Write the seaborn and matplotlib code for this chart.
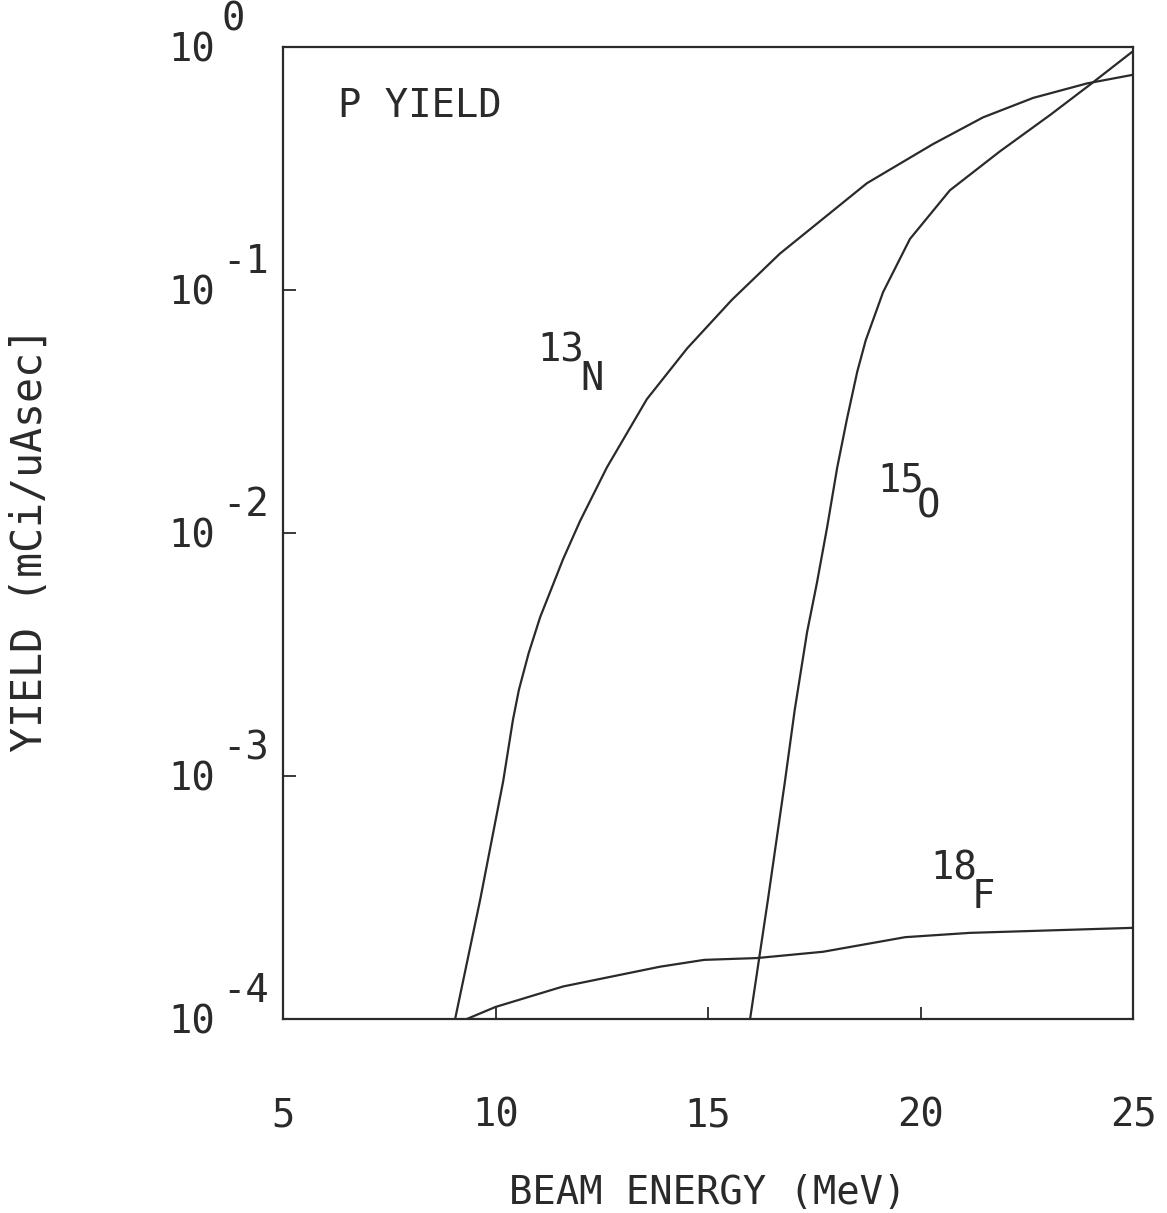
import matplotlib
matplotlib.use("Agg")
import matplotlib.pyplot as plt
import matplotlib.ticker as mticker
import numpy as np
import pandas as pd
import seaborn as sns

# yield curves (beam energy in MeV, yield in mCi/uAsec)
n13_energy = [9.05, 9.64, 10.18, 10.41, 10.55, 10.78, 11.05, 11.59, 11.99, 12.62, 13.56,
              14.51, 15.56, 16.69, 18.74, 20.29, 21.47, 22.65, 23.92, 24.98]
n13_yield = [1.0e-4, 3.1e-4, 9.5e-4, 1.7e-3, 2.26e-3, 3.2e-3, 4.5e-3, 7.8e-3, 1.12e-2, 1.86e-2, 3.55e-2,
             5.75e-2, 9.1e-2, 0.141, 0.275, 0.398, 0.513, 0.617, 0.708, 0.767]

o15_energy = [15.99, 16.41, 16.81, 17.04, 17.33, 17.56, 17.80, 18.04, 18.27, 18.51,
              18.71, 19.12, 19.75, 20.69, 21.87, 23.05, 23.99, 24.98]
o15_yield = [1.0e-4, 3.1e-4, 9.5e-4, 1.87e-3, 3.9e-3, 6.2e-3, 1.05e-2, 1.86e-2, 2.95e-2, 4.6e-2,
             6.2e-2, 9.8e-2, 0.162, 0.257, 0.372, 0.525, 0.70, 0.955]

f18_energy = [9.33, 10.0, 11.59, 13.87, 14.91, 16.15, 17.71, 19.64, 21.16, 24.98]
f18_yield = [1.0e-4, 1.12e-4, 1.36e-4, 1.64e-4, 1.75e-4, 1.78e-4, 1.89e-4, 2.17e-4, 2.26e-4, 2.37e-4]

x_ticks = [5, 10, 15, 20, 25]
y_ticks = [1e0, 1e-1, 1e-2, 1e-3, 1e-4]
y_exponents = ["0", "-1", "-2", "-3", "-4"]

# isotope labels: (mass number, symbol, position of mass number, position of symbol)
curve_labels = [("13", "N", (10.98, 10 ** -1.296), (11.99, 10 ** -1.412)),
                ("15", "O", (18.98, 10 ** -1.831), (19.92, 10 ** -1.938)),
                ("18", "F", (20.22, 10 ** -3.428), (21.21, 10 ** -3.543))]

df = pd.concat([
    pd.DataFrame({"energy": n13_energy, "yield": n13_yield, "isotope": "13N"}),
    pd.DataFrame({"energy": o15_energy, "yield": o15_yield, "isotope": "15O"}),
    pd.DataFrame({"energy": f18_energy, "yield": f18_yield, "isotope": "18F"}),
])

sns.set_style("ticks")
plt.rcParams["font.family"] = ["DejaVu Sans Mono"]
plt.rcParams["font.size"] = 28
ink = "#2a2a2a"

fig = plt.figure(figsize=(11.67, 12.13), dpi=100)
ax = fig.add_axes([0.2425, 0.16, 0.7284, 0.8013])

sns.lineplot(data=df, x="energy", y="yield", units="isotope", estimator=None,
             sort=False, color=ink, lw=1.6, ax=ax)

ax.set_yscale("log")
ax.set_xlim(5, 25)
ax.set_ylim(1e-4, 1)

ax.set_xticks(x_ticks)
ax.set_yticks(y_ticks, labels=["10"] * len(y_ticks))
ax.yaxis.set_minor_locator(mticker.NullLocator())
ax.tick_params(axis="x", direction="in", length=9, width=1.3, pad=56, colors=ink)
ax.tick_params(axis="y", direction="in", length=9, width=1.3, pad=49, colors=ink)
for s in ax.spines.values():
    s.set_linewidth(1.6)
    s.set_color(ink)

for val, e in zip(y_ticks, y_exponents):
    ax.annotate(e, xy=(0, val), xycoords=("axes fraction", "data"),
                xytext=(-44, 20), textcoords="offset points",
                ha="left", va="center", color=ink)

for mass, sym, p1, p2 in curve_labels:
    ax.text(p1[0], p1[1], mass, ha="left", va="baseline", color=ink)
    ax.text(p2[0], p2[1], sym, ha="left", va="baseline", color=ink)

ax.text(0.065, 0.959, "P YIELD", transform=ax.transAxes, ha="left", va="top", color=ink)

ax.set_xlabel("BEAM ENERGY (MeV)", color=ink)
ax.set_ylabel("YIELD (mCi/uAsec]", color=ink, fontsize=30)
ax.xaxis.set_label_coords(0.5, -0.16)
ax.yaxis.set_label_coords(-0.273, 0.493)

fig.savefig("out.png", dpi=100)
